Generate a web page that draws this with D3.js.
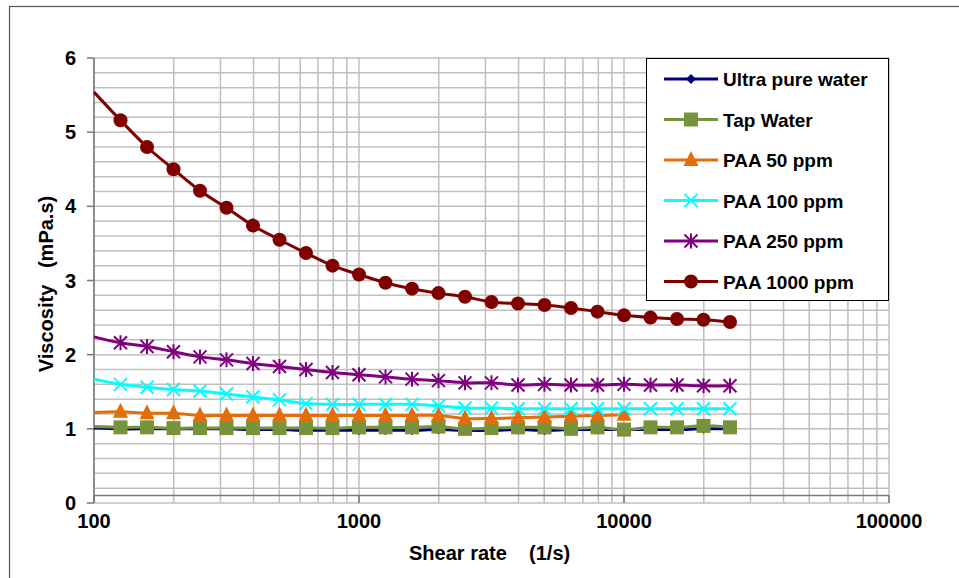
<!DOCTYPE html>
<html>
<head>
<meta charset="utf-8">
<script src="https://cdn.jsdelivr.net/npm/d3@7/dist/d3.min.js"></script>
<style>
  body { margin: 0; background: #fff; }
  text { font-family: "Liberation Sans", Arial, sans-serif; font-weight: bold; fill: #000; }
</style>
</head>
<body>
<svg></svg>
<script>
var width = 959,
    height = 578;

// shear rates (1/s)
var shearRate = [100, 125.9, 158.5, 199.5, 251.2, 316.2, 398.1, 501.2, 631, 794.3,
  1000, 1259, 1585, 1995, 2512, 3162, 3981, 5012, 6310, 7943,
  10000, 12589, 15849, 19953, 25119];

// viscosity (mPa.s) per fluid
var ultraPure = [1.01, 1.0, 1.0, 1.0, 1.0, 1.0, 0.99, 0.99, 0.98, 0.98,
  0.98, 0.98, 0.98, 0.99, 0.98, 0.98, 0.99, 0.98, 0.99, 0.99,
  0.99, 0.99, 0.99, 1.0, 1.0];
var tapWater = [1.03, 1.02, 1.02, 1.01, 1.01, 1.01, 1.01, 1.01, 1.01, 1.01,
  1.02, 1.02, 1.02, 1.03, 1.0, 1.01, 1.02, 1.02, 1.0, 1.02,
  0.99, 1.02, 1.02, 1.04, 1.02];
var paa50 = [1.22, 1.23, 1.21, 1.21, 1.18, 1.18, 1.18, 1.18, 1.18, 1.18,
  1.18, 1.18, 1.18, 1.18, 1.14, 1.14, 1.15, 1.16, 1.17, 1.18,
  1.19];
var paa100 = [1.67, 1.60, 1.56, 1.53, 1.51, 1.47, 1.43, 1.39, 1.34, 1.33,
  1.33, 1.33, 1.33, 1.31, 1.28, 1.28, 1.27, 1.27, 1.27, 1.27,
  1.27, 1.27, 1.27, 1.27, 1.27];
var paa250 = [2.24, 2.16, 2.11, 2.04, 1.97, 1.93, 1.88, 1.84, 1.80, 1.76,
  1.73, 1.70, 1.67, 1.65, 1.62, 1.62, 1.59, 1.60, 1.59, 1.59,
  1.60, 1.59, 1.59, 1.58, 1.58];
var paa1000 = [5.54, 5.16, 4.80, 4.50, 4.21, 3.98, 3.74, 3.55, 3.37, 3.20,
  3.08, 2.97, 2.89, 2.83, 2.78, 2.71, 2.69, 2.67, 2.63, 2.58,
  2.53, 2.50, 2.48, 2.47, 2.44];

var seriesNames = ["Ultra pure water", "Tap Water", "PAA 50 ppm", "PAA 100 ppm", "PAA 250 ppm", "PAA 1000 ppm"];
var seriesValues = [ultraPure, tapWater, paa50, paa100, paa250, paa1000];
var seriesColors = ["#000080", "#77933c", "#e46c0a", "#00ffff", "#800080", "#800000"];
var seriesMarkers = ["diamond", "square", "triangle", "cross", "star", "circle"];

var xTicks = [100, 1000, 10000, 100000];
var yTicks = [0, 1, 2, 3, 4, 5, 6];

var svg = d3.select("svg")
    .attr("width", width)
    .attr("height", height);

// outer chart border
svg.append("rect")
  .attr("x", 9.5).attr("y", 6.5)
  .attr("width", 960).attr("height", 600)
  .attr("fill", "none")
  .attr("stroke", "#555")
  .attr("stroke-width", 1.2);

var x = d3.scaleLog().domain([100, 100000]).range([94, 889]);
var y = d3.scaleLinear().domain([0, 6]).range([503, 58]);

//grid
var g = svg.append("g");
var minor = [];
[100, 1000, 10000].forEach(function(dec) {
  for (var k = 1; k < 10; k++) minor.push(dec * k);
});
minor.push(100000);
g.selectAll(".vgrid")
    .data(minor)
  .enter().append("line")
    .attr("x1", function(d) { return x(d); })
    .attr("x2", function(d) { return x(d); })
    .attr("y1", y(0)).attr("y2", y(6))
    .attr("stroke", "#bfbfbf")
    .attr("stroke-width", 1.5);
g.selectAll(".hgrid")
    .data(d3.range(0, 31))
  .enter().append("line")
    .attr("x1", x(100)).attr("x2", x(100000))
    .attr("y1", function(d) { return y(d * 0.2); })
    .attr("y2", function(d) { return y(d * 0.2); })
    .attr("stroke", "#bfbfbf")
    .attr("stroke-width", 1.5);

//axes (x axis crosses at 0.1)
var axisCol = "#777";
g.append("line")
  .attr("x1", x(100)).attr("x2", x(100000))
  .attr("y1", y(0.1)).attr("y2", y(0.1))
  .attr("stroke", axisCol).attr("stroke-width", 1.5);
g.selectAll(".xtick")
    .data(xTicks)
  .enter().append("line")
    .attr("x1", function(d) { return x(d); })
    .attr("x2", function(d) { return x(d); })
    .attr("y1", y(0.1)).attr("y2", y(0))
    .attr("stroke", axisCol).attr("stroke-width", 1.5);
g.append("line")
  .attr("x1", x(100)).attr("x2", x(100))
  .attr("y1", y(0)).attr("y2", y(6))
  .attr("stroke", axisCol).attr("stroke-width", 1.5);
g.selectAll(".ytick")
    .data(yTicks)
  .enter().append("line")
    .attr("x1", x(100) - 7).attr("x2", x(100))
    .attr("y1", function(d) { return y(d); })
    .attr("y2", function(d) { return y(d); })
    .attr("stroke", axisCol).attr("stroke-width", 1.5);

svg.selectAll(".ylab")
    .data(yTicks)
  .enter().append("text")
    .attr("x", 76)
    .attr("y", function(d) { return y(d) + 7; })
    .attr("text-anchor", "end")
    .style("font-size", "20px")
    .text(function(d) { return d; });
svg.selectAll(".xlab")
    .data(xTicks)
  .enter().append("text")
    .attr("x", function(d) { return x(d); })
    .attr("y", 528)
    .attr("text-anchor", "middle")
    .style("font-size", "20px")
    .text(function(d) { return d; });

//titles
svg.append("text")
  .attr("x", 409).attr("y", 560)
  .style("font-size", "20px")
  .style("white-space", "pre")
  .text("Shear rate    (1/s)");
svg.append("text")
  .attr("transform", "translate(53,284) rotate(-90)")
  .attr("text-anchor", "middle")
  .style("font-size", "20px")
  .style("white-space", "pre")
  .text("Viscosity   (mPa.s)");

//markers
function drawMarker(sel, type, color) {
  if (type == "diamond") {
    sel.append("path").attr("d", "M0,-5L5,0L0,5L-5,0Z").attr("fill", color);
  } else if (type == "square") {
    sel.append("rect").attr("x", -7).attr("y", -7).attr("width", 14).attr("height", 14).attr("fill", color);
  } else if (type == "triangle") {
    sel.append("path").attr("d", "M0,-9L7.5,6L-7.5,6Z").attr("fill", color);
  } else if (type == "cross") {
    sel.append("path").attr("d", "M-6.5,-6.5L6.5,6.5M-6.5,6.5L6.5,-6.5").attr("stroke", color).attr("stroke-width", 2);
  } else if (type == "star") {
    sel.append("path").attr("d", "M-6.5,-6.5L6.5,6.5M-6.5,6.5L6.5,-6.5M0,-7.5L0,7.5").attr("stroke", color).attr("stroke-width", 2);
  } else {
    sel.append("circle").attr("r", 7).attr("fill", color);
  }
}

var line = d3.line()
  .x(function(d) { return x(d[0]); })
  .y(function(d) { return y(d[1]); })
  .curve(d3.curveCatmullRom.alpha(0.5));

seriesValues.forEach(function(vals, i) {
  var pts = vals.map(function(v, j) { return [shearRate[j], v]; });
  var sg = svg.append("g");
  sg.append("path")
    .attr("d", line(pts))
    .attr("fill", "none")
    .attr("stroke", seriesColors[i])
    .attr("stroke-width", 3);
  //first point at 100 has no marker
  sg.selectAll(".m")
      .data(pts.slice(1))
    .enter().append("g")
      .attr("transform", function(d) { return "translate(" + x(d[0]) + "," + y(d[1]) + ")"; })
      .each(function() { drawMarker(d3.select(this), seriesMarkers[i], seriesColors[i]); });
});

//legend
var legend = svg.append("g");
legend.append("rect")
  .attr("x", 646.5).attr("y", 58.5)
  .attr("width", 242).attr("height", 242)
  .attr("fill", "#fff")
  .attr("stroke", "#000")
  .attr("stroke-width", 1);
seriesNames.forEach(function(name, i) {
  var ly = 79 + i * 40.5;
  var lg = legend.append("g");
  lg.append("line")
    .attr("x1", 664).attr("x2", 718)
    .attr("y1", ly).attr("y2", ly)
    .attr("stroke", seriesColors[i])
    .attr("stroke-width", 3);
  drawMarker(lg.append("g").attr("transform", "translate(691," + ly + ")"), seriesMarkers[i], seriesColors[i]);
  lg.append("text")
    .attr("x", 723).attr("y", ly + 7)
    .style("font-size", "19px")
    .text(name);
});
</script>
</body>
</html>
